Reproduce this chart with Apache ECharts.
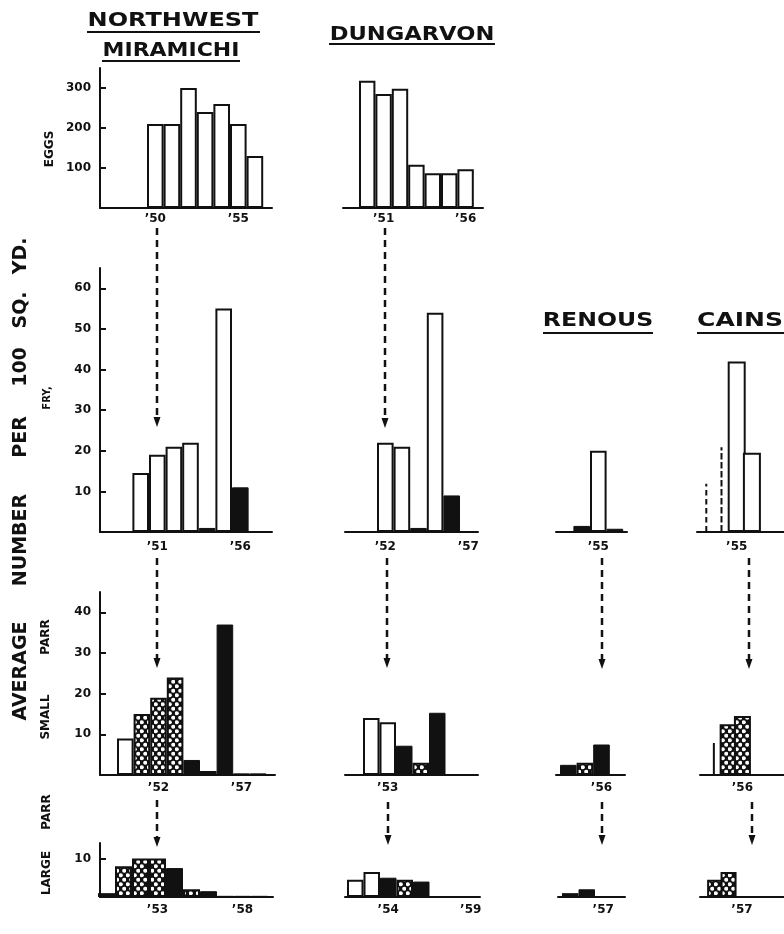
<!DOCTYPE html>
<html>
<head>
<meta charset="utf-8">
<script src="https://cdn.jsdelivr.net/npm/echarts@6/dist/echarts.min.js"></script>
<style>
html, body { margin: 0; background: #fff; }
#main { width: 784px; height: 934px; }
</style>
</head>
<body>
<div id="main"></div>
<script>
// bar kinds: o = open, b = black, d = dotted

// Northwest Miramichi
const nwEggYears = [1950, 1951, 1952, 1953, 1954, 1955, 1956];
const nwEggs = [210, 210, 300, 240, 260, 210, 130];
const nwEggKinds = ['o', 'o', 'o', 'o', 'o', 'o', 'o'];

const nwFryYears = [1950, 1951, 1952, 1953, 1954, 1955, 1956];
const nwFry = [14.5, 19, 21, 22, 1, 55, 11];
const nwFryKinds = ['o', 'o', 'o', 'o', 'b', 'o', 'b'];

const nwSmallYears = [1950, 1951, 1952, 1953, 1954, 1955, 1956, 1957, 1958];
const nwSmall = [9, 15, 19, 24, 3.7, 1, 37, 0.4, 0.4];
const nwSmallKinds = ['o', 'd', 'd', 'd', 'b', 'o', 'b', 'b', 'b'];

const nwLargeYears = [1950, 1951, 1952, 1953, 1954, 1955, 1956, 1957, 1958, 1959];
const nwLarge = [1, 8, 10, 10, 7.5, 2, 1.5, 0.3, 0.3, 0.3];
const nwLargeKinds = ['o', 'd', 'd', 'd', 'b', 'd', 'b', 'b', 'b', 'b'];

// Dungarvon
const dgEggYears = [1950, 1951, 1952, 1953, 1954, 1955, 1956];
const dgEggs = [318, 285, 298, 108, 87, 87, 97];
const dgEggKinds = ['o', 'o', 'o', 'o', 'o', 'o', 'o'];

const dgFryYears = [1952, 1953, 1954, 1955, 1956];
const dgFry = [22, 21, 1, 54, 9];
const dgFryKinds = ['o', 'o', 'b', 'o', 'b'];

const dgSmallYears = [1952, 1953, 1954, 1955, 1956];
const dgSmall = [14, 13, 7.2, 3, 15.3];
const dgSmallKinds = ['o', 'o', 'b', 'd', 'b'];

const dgLargeYears = [1952, 1953, 1954, 1955, 1956];
const dgLarge = [4.5, 6.5, 5, 4.5, 4];
const dgLargeKinds = ['o', 'o', 'b', 'd', 'b'];

// Renous
const rnFryYears = [1954, 1955, 1956];
const rnFry = [1.5, 20, 0.8];
const rnFryKinds = ['b', 'o', 'b'];

const rnSmallYears = [1954, 1955, 1956];
const rnSmall = [2.5, 3, 7.5];
const rnSmallKinds = ['b', 'd', 'b'];

const rnLargeYears = [1955, 1956];
const rnLarge = [1, 2];
const rnLargeKinds = ['o', 'b'];

// Cains (dashed = estimates drawn as dashed strokes)
const cnFryYears = [1955, 1956];
const cnFry = [42, 19.5];
const cnFryKinds = ['o', 'o'];
const cnFryDashYears = [1953, 1954];
const cnFryDash = [12, 21];

const cnSmallYears = [1955, 1956];
const cnSmall = [12.5, 14.5];
const cnSmallKinds = ['d', 'd'];
const cnSmallDashYears = [1954];
const cnSmallDash = [8];

const cnLargeYears = [1955, 1956];
const cnLarge = [4.5, 6.5];
const cnLargeKinds = ['d', 'd'];

// tick labels
const eggTicks = [100, 200, 300];
const fryTicks = [10, 20, 30, 40, 50, 60];
const smallTicks = [10, 20, 30, 40];
const largeTicks = [10];

const INK = '#111';
const FONT = '"DejaVu Sans", sans-serif';

function dotPattern() {
    let c = document.createElement('canvas');
    c.width = 7;
    c.height = 9;
    let ctx = c.getContext('2d');
    ctx.fillStyle = INK;
    ctx.fillRect(0, 0, 7, 9);
    ctx.fillStyle = '#fff';
    [[1.75, 2.25], [5.25, 6.75]].forEach(p => {
        ctx.beginPath();
        ctx.arc(p[0], p[1], 2.1, 0, Math.PI * 2);
        ctx.fill();
    });
    return c;
}
const dots = { image: dotPattern(), repeat: 'repeat' };

function barStyle(kind) {
    if (kind == 'b') return { color: INK, borderColor: INK, borderWidth: 1 };
    if (kind == 'd') return { color: dots, borderColor: INK, borderWidth: 2 };
    return { color: '#fff', borderColor: INK, borderWidth: 2 };
}

// rows: grid top and baseline in px, y max
const rows = {
    eggs: { top: 68, base: 208, max: 350, ticks: eggTicks, gap: 5 },
    fry: { top: 268, base: 532, max: 65, ticks: fryTicks, gap: 9 },
    small: { top: 592, base: 775, max: 45, ticks: smallTicks, gap: 7 },
    large: { top: 843, base: 897, max: 14, ticks: largeTicks, gap: 7 }
};

// x0/x1 = axis line ends, ref year starts at px refLeft, bw = px per year
const panels = [
    { row: 'eggs', yAxis: true, x0: 100, x1: 272, ref: 1950, refLeft: 147, bw: 16.6, years: nwEggYears, values: nwEggs, kinds: nwEggKinds, labels: [1950, 1955] },
    { row: 'fry', yAxis: true, x0: 100, x1: 272, ref: 1951, refLeft: 149, bw: 16.6, years: nwFryYears, values: nwFry, kinds: nwFryKinds, labels: [1951, 1956] },
    { row: 'small', yAxis: true, x0: 100, x1: 275, ref: 1950, refLeft: 117, bw: 16.6, years: nwSmallYears, values: nwSmall, kinds: nwSmallKinds, labels: [1952, 1957] },
    { row: 'large', yAxis: true, x0: 100, x1: 273, ref: 1951, refLeft: 115, bw: 17, years: nwLargeYears, values: nwLarge, kinds: nwLargeKinds, labels: [1953, 1958] },

    { row: 'eggs', x0: 343, x1: 483, ref: 1950, refLeft: 359, bw: 16.4, years: dgEggYears, values: dgEggs, kinds: dgEggKinds, labels: [1951, 1956] },
    { row: 'fry', x0: 345, x1: 478, ref: 1952, refLeft: 377, bw: 16.6, years: dgFryYears, values: dgFry, kinds: dgFryKinds, labels: [1952, 1957] },
    { row: 'small', x0: 345, x1: 478, ref: 1952, refLeft: 363, bw: 16.5, years: dgSmallYears, values: dgSmall, kinds: dgSmallKinds, labels: [1953] },
    { row: 'large', x0: 345, x1: 480, ref: 1952, refLeft: 347, bw: 16.5, years: dgLargeYears, values: dgLarge, kinds: dgLargeKinds, labels: [1954, 1959] },

    { row: 'fry', x0: 556, x1: 627, ref: 1955, refLeft: 590, bw: 16.6, years: rnFryYears, values: rnFry, kinds: rnFryKinds, labels: [1955] },
    { row: 'small', x0: 556, x1: 625, ref: 1954, refLeft: 560, bw: 16.6, years: rnSmallYears, values: rnSmall, kinds: rnSmallKinds, labels: [1956] },
    { row: 'large', x0: 558, x1: 625, ref: 1955, refLeft: 562, bw: 16.5, years: rnLargeYears, values: rnLarge, kinds: rnLargeKinds, labels: [1957] },

    { row: 'fry', x0: 697, x1: 800, ref: 1955, refLeft: 735, bw: 18, years: cnFryYears, values: cnFry, kinds: cnFryKinds, labels: [1955], dashYears: cnFryDashYears, dash: cnFryDash },
    { row: 'small', x0: 700, x1: 800, ref: 1955, refLeft: 725, bw: 17, years: cnSmallYears, values: cnSmall, kinds: cnSmallKinds, labels: [1956], dashYears: cnSmallDashYears, dash: cnSmallDash },
    { row: 'large', x0: 700, x1: 800, ref: 1955, refLeft: 710, bw: 16, years: cnLargeYears, values: cnLarge, kinds: cnLargeKinds, labels: [1957] }
];

let grid = [], xAxis = [], yAxis = [], series = [];

panels.forEach((p, i) => {
    let r = rows[p.row];
    let min = p.ref - 0.5 - (p.refLeft - p.x0) / p.bw;
    let max = min + (p.x1 - p.x0) / p.bw;
    grid.push({ left: p.x0, width: p.x1 - p.x0, top: r.top, height: r.base - r.top });
    let xi = xAxis.length;
    xAxis.push({
        type: 'value', gridIndex: i, min: min, max: max,
        axisLine: { show: true, onZero: false, lineStyle: { color: INK, width: 2 } },
        axisTick: { show: false },
        splitLine: { show: false },
        axisLabel: {
            customValues: p.labels,
            formatter: v => '\u2019' + String(v).slice(2),
            color: INK, fontFamily: FONT, fontWeight: 'bold', fontSize: 12, margin: r.gap
        }
    });
    yAxis.push({
        type: 'value', gridIndex: i, min: 0, max: r.max,
        axisLine: { show: !!p.yAxis, lineStyle: { color: INK, width: 2 } },
        axisTick: { show: !!p.yAxis, inside: true, length: 6, customValues: r.ticks, lineStyle: { color: INK, width: 2 } },
        axisLabel: {
            show: !!p.yAxis, customValues: r.ticks,
            color: INK, fontFamily: FONT, fontWeight: 'bold', fontSize: 12, margin: 9
        },
        splitLine: { show: false }
    });
    series.push({
        type: 'bar', xAxisIndex: xi, yAxisIndex: i,
        barWidth: p.bw, z: 1,
        data: p.years.map((y, k) => ({ value: [y, p.values[k]], itemStyle: barStyle(p.kinds[k]) }))
    });
    if (p.dash) {
        // second hidden axis so the thin dashed bars get their own layout
        let di = xAxis.length;
        xAxis.push({ type: 'value', gridIndex: i, min: min, max: max, show: false });
        series.push({
            type: 'bar', xAxisIndex: di, yAxisIndex: i, barWidth: 1,
            itemStyle: { color: 'none', borderColor: INK, borderWidth: 2, borderType: [5, 4] },
            data: p.dashYears.map((y, k) => [y, p.dash[k]])
        });
    }
});

// text and arrows around the panels
function word(text, x, y, size, rot, sx) {
    return {
        type: 'text', x: x, y: y, rotation: rot || 0, scaleX: sx || 1,
        style: { text: text, font: 'bold ' + size + 'px ' + FONT, fill: INK, align: 'center', verticalAlign: 'middle' }
    };
}
function rule(x1, x2, y) {
    return { type: 'line', shape: { x1: x1, y1: y, x2: x2, y2: y }, style: { stroke: INK, lineWidth: 2 } };
}
function arrow(x, y1, tip) {
    return [
        { type: 'line', shape: { x1: x, y1: y1, x2: x, y2: tip - 8 }, style: { stroke: INK, lineWidth: 2.5, lineDash: [7, 5] } },
        { type: 'polygon', shape: { points: [[x - 3.5, tip - 10], [x + 3.5, tip - 10], [x, tip]] }, style: { fill: INK } }
    ];
}
const UP = Math.PI / 2;
let graphic = [
    word('NORTHWEST', 173, 21, 20, 0, 1.2), rule(87, 260, 32),
    word('MIRAMICHI', 171, 51, 20, 0, 1.1), rule(102, 240, 61),
    word('DUNGARVON', 412, 35, 20, 0, 1.13), rule(329, 495, 44),
    word('RENOUS', 598, 321, 20, 0, 1.18), rule(543, 653, 333),
    word('CAINS', 740, 321, 20, 0, 1.25), rule(697, 784, 333),

    word('AVERAGE', 21, 671, 19, UP), word('NUMBER', 21, 540, 19, UP),
    word('PER', 21, 437, 19, UP), word('100', 21, 367, 19, UP),
    word('SQ.', 21, 310, 19, UP), word('YD.', 21, 256, 19, UP),

    word('EGGS', 50, 149, 12, UP), word('FRY,', 47, 398, 10, UP),
    word('SMALL', 46, 717, 12, UP), word('PARR', 46, 637, 12, UP),
    word('LARGE', 47, 873, 12, UP), word('PARR', 47, 812, 12, UP)
];
[[157, 228, 427], [385, 228, 428],
 [157, 558, 668], [387, 558, 668], [602, 558, 669], [749, 558, 669],
 [157, 800, 847], [388, 802, 845], [602, 802, 845], [752, 802, 845]
].forEach(a => { graphic = graphic.concat(arrow(a[0], a[1], a[2])); });

let chart = echarts.init(document.getElementById('main'));
chart.setOption({
    animation: false,
    backgroundColor: '#fff',
    grid: grid,
    xAxis: xAxis,
    yAxis: yAxis,
    series: series,
    graphic: graphic
});
</script>
</body>
</html>
